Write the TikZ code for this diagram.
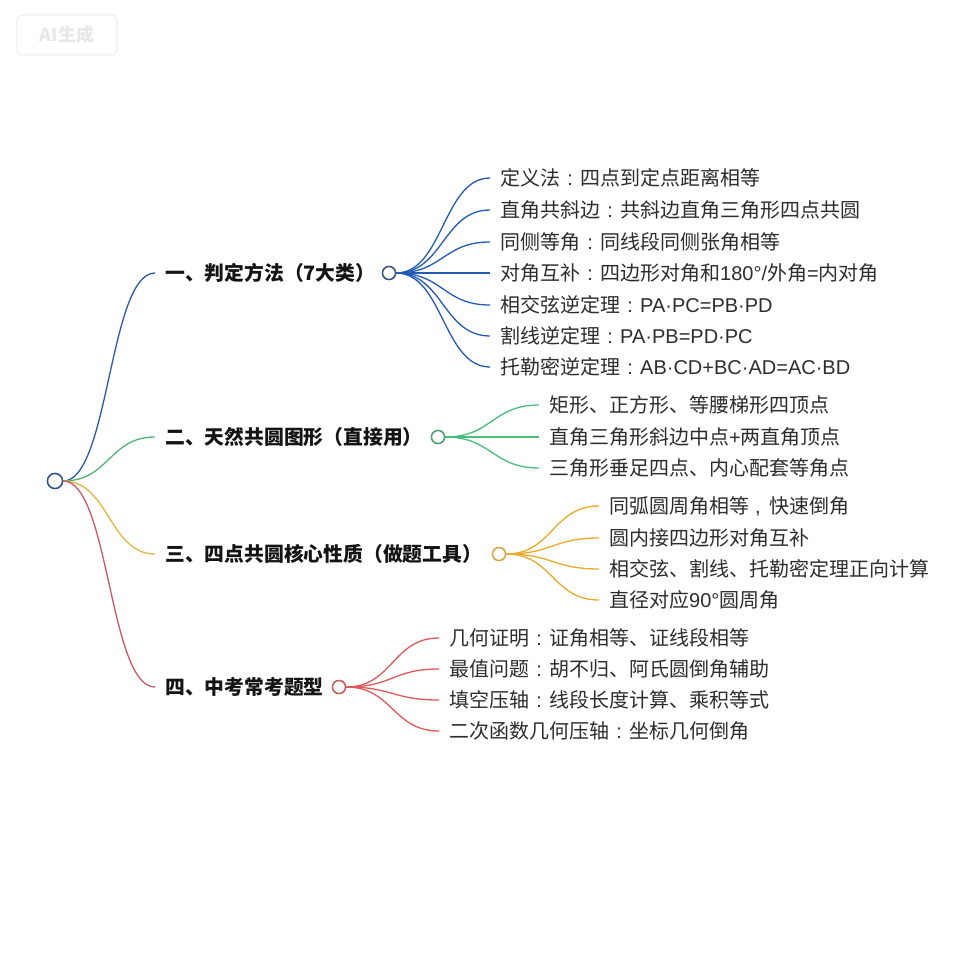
\documentclass[tikz,border=0pt]{standalone}
\usepackage{fontspec}
\setmainfont{Noto Sans CJK SC}
\newfontfamily\lat{Liberation Sans}
\usetikzlibrary{calc}
\definecolor{blueL}{RGB}{35,90,180}
\definecolor{greenL}{RGB}{70,190,120}
\definecolor{orangeL}{RGB}{235,170,40}
\definecolor{redL}{RGB}{222,88,92}
\definecolor{blueC}{RGB}{60,85,125}
\definecolor{greenC}{RGB}{80,160,110}
\definecolor{orangeC}{RGB}{215,165,70}
\definecolor{redC}{RGB}{200,90,90}
\definecolor{rootC}{RGB}{44,80,140}
\definecolor{leafT}{RGB}{45,45,45}
\definecolor{branchT}{RGB}{20,20,20}
\newcommand\mmlink[3]{\draw[#1] let \p1=(#2), \p2=(#3) in (\p1) .. controls ({(\x1+\x2)/2},\y1) and ({(\x1+\x2)/2},\y2) .. (\p2);}
\newcommand\cc{\hbox to 1em{\hss\lat :\hss}}
\newcommand\cm{\hbox to 1em{\hskip0.3em\lat ,\hss}}
\begin{document}
\begin{tikzpicture}[x=1pt,y=-1pt,
  leaf/.style={anchor=west, inner xsep=10pt, inner ysep=0pt, text=leafT, font=\fontsize{20}{21}\selectfont},
  branch/.style={anchor=west, inner xsep=10pt, inner ysep=0pt, text=branchT, font=\fontsize{19.8}{21}\selectfont\bfseries},
  dotc/.style={circle, fill=white, minimum size=13pt, inner sep=0pt, line width=1.4pt},
  link/.style={line width=1.3pt}]
\useasboundingbox (0,0) rectangle (960,960);
\fill[white] (0,0) rectangle (960,960);
% watermark
\node[draw=gray!10, rounded corners=5pt, line width=1.5pt, minimum width=100pt, minimum height=40pt, text=gray!18, font=\fontsize{18}{18}\selectfont\bfseries] (wm) at (67,35) {AI生成};
% root
\node[dotc, draw=rootC, minimum size=15pt] (root) at (55,481) {};
% branches
\node[branch] (b1) at (155,273) {一、判定方法（7大类）};
\node[branch] (b2) at (155,437) {二、天然共圆图形（直接用）};
\node[branch] (b3) at (155,554) {三、四点共圆核心性质（做题工具）};
\node[branch] (b4) at (155,687) {四、中考常考题型};
\mmlink{link, color={rgb,255:red,45;green,90;blue,160}}{root.east}{b1.west}
\mmlink{link, color={rgb,255:red,80;green,180;blue,120}}{root.east}{b2.west}
\mmlink{link, color={rgb,255:red,230;green,180;blue,60}}{root.east}{b3.west}
\mmlink{link, color={rgb,255:red,200;green,90;blue,100}}{root.east}{b4.west}
% branch circles
\node[dotc, draw=blueC] (c1) at (389,273) {};
\node[dotc, draw=greenC] (c2) at (438,437) {};
\node[dotc, draw=orangeC] (c3) at (499,554) {};
\node[dotc, draw=redC] (c4) at (339,687) {};
% leaves branch 1
\node[leaf] (l11) at (490,178) {定义法\cc 四点到定点距离相等};
\node[leaf] (l12) at (490,210) {直角共斜边\cc 共斜边直角三角形四点共圆};
\node[leaf] (l13) at (490,242) {同侧等角\cc 同线段同侧张角相等};
\node[leaf] (l14) at (490,273) {对角互补\cc 四边形对角和{\lat 180°/}外角{\lat =}内对角};
\node[leaf] (l15) at (490,305) {相交弦逆定理\cc {\lat PA·PC=PB·PD}};
\node[leaf] (l16) at (490,336) {割线逆定理\cc {\lat PA·PB=PD·PC}};
\node[leaf] (l17) at (490,367) {托勒密逆定理\cc {\lat AB·CD+BC·AD=AC·BD}};
\foreach \i in {1,...,7}{\mmlink{link, blueL}{c1.east}{l1\i.west}}
% leaves branch 2
\node[leaf] (l21) at (539,405) {矩形、正方形、等腰梯形四顶点};
\node[leaf] (l22) at (539,437) {直角三角形斜边中点{\lat +}两直角顶点};
\node[leaf] (l23) at (539,468) {三角形垂足四点、内心配套等角点};
\foreach \i in {1,...,3}{\mmlink{link, greenL}{c2.east}{l2\i.west}}
% leaves branch 3
\node[leaf] (l31) at (599,506) {同弧圆周角相等\cm 快速倒角};
\node[leaf] (l32) at (599,538) {圆内接四边形对角互补};
\node[leaf] (l33) at (599,569) {相交弦、割线、托勒密定理正向计算};
\node[leaf] (l34) at (599,600) {直径对应{\lat 90°}圆周角};
\foreach \i in {1,...,4}{\mmlink{link, orangeL}{c3.east}{l3\i.west}}
% leaves branch 4
\node[leaf] (l41) at (439,638) {几何证明\cc 证角相等、证线段相等};
\node[leaf] (l42) at (439,669) {最值问题\cc 胡不归、阿氏圆倒角辅助};
\node[leaf] (l43) at (439,700) {填空压轴\cc 线段长度计算、乘积等式};
\node[leaf] (l44) at (439,731) {二次函数几何压轴\cc 坐标几何倒角};
\foreach \i in {1,...,4}{\mmlink{link, redL}{c4.east}{l4\i.west}}
% redraw circles on top
\node[dotc, draw=blueC] at (c1) {};
\node[dotc, draw=greenC] at (c2) {};
\node[dotc, draw=orangeC] at (c3) {};
\node[dotc, draw=redC] at (c4) {};
\node[dotc, draw=rootC, minimum size=15pt] at (root) {};
\end{tikzpicture}
\end{document}
